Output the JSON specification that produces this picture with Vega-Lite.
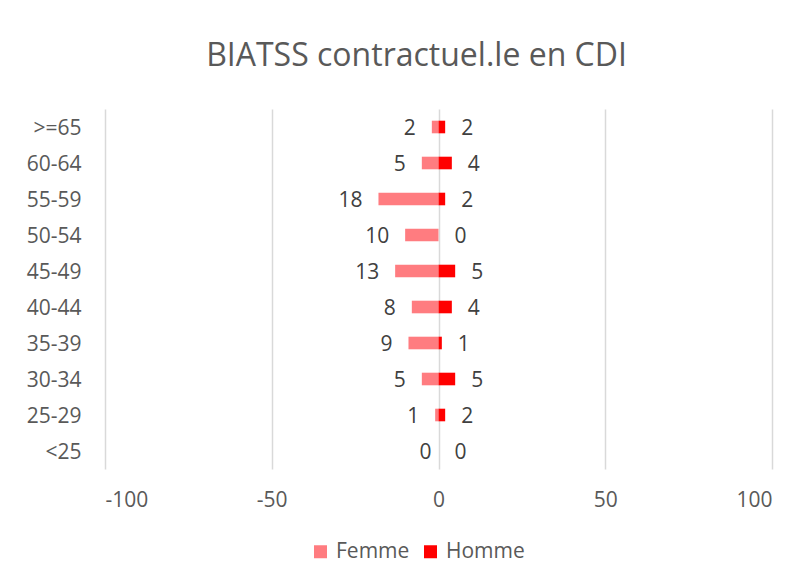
{
  "$schema": "https://vega.github.io/schema/vega-lite/v6.json",
  "width": 667,
  "height": 360,
  "autosize": {"type": "none"},
  "padding": {"left": 105, "top": 109, "right": 36, "bottom": 114},
  "background": "white",
  "title": {"text": "BIATSS contractuel.le en CDI", "fontSize": 32, "font": "Open Sans", "fontWeight": "normal", "color": "#595959", "anchor": "middle", "dx": -22, "offset": 36},
  "config": {"view": {"stroke": null}, "font": "Open Sans"},
  "data": {"values": [
    {"age": ">=65", "sexe": "Femme", "valeur": -2, "effectif": 2},
    {"age": "60-64", "sexe": "Femme", "valeur": -5, "effectif": 5},
    {"age": "55-59", "sexe": "Femme", "valeur": -18, "effectif": 18},
    {"age": "50-54", "sexe": "Femme", "valeur": -10, "effectif": 10},
    {"age": "45-49", "sexe": "Femme", "valeur": -13, "effectif": 13},
    {"age": "40-44", "sexe": "Femme", "valeur": -8, "effectif": 8},
    {"age": "35-39", "sexe": "Femme", "valeur": -9, "effectif": 9},
    {"age": "30-34", "sexe": "Femme", "valeur": -5, "effectif": 5},
    {"age": "25-29", "sexe": "Femme", "valeur": -1, "effectif": 1},
    {"age": "<25", "sexe": "Femme", "valeur": 0, "effectif": 0},
    {"age": ">=65", "sexe": "Homme", "valeur": 2, "effectif": 2},
    {"age": "60-64", "sexe": "Homme", "valeur": 4, "effectif": 4},
    {"age": "55-59", "sexe": "Homme", "valeur": 2, "effectif": 2},
    {"age": "50-54", "sexe": "Homme", "valeur": 0, "effectif": 0},
    {"age": "45-49", "sexe": "Homme", "valeur": 5, "effectif": 5},
    {"age": "40-44", "sexe": "Homme", "valeur": 4, "effectif": 4},
    {"age": "35-39", "sexe": "Homme", "valeur": 1, "effectif": 1},
    {"age": "30-34", "sexe": "Homme", "valeur": 5, "effectif": 5},
    {"age": "25-29", "sexe": "Homme", "valeur": 2, "effectif": 2},
    {"age": "<25", "sexe": "Homme", "valeur": 0, "effectif": 0}
  ]},
  "encoding": {
    "y": {"field": "age", "type": "nominal", "sort": [">=65", "60-64", "55-59", "50-54", "45-49", "40-44", "35-39", "30-34", "25-29", "<25"],
      "scale": {"paddingInner": 0.65, "paddingOuter": 0.325},
      "axis": {"title": null, "domain": false, "ticks": false, "labelFontSize": 21, "labelColor": "#595959", "labelPadding": 24, "labelOffset": 1.5, "labelFont": "Open Sans"}},
    "x": {"field": "valeur", "type": "quantitative", "stack": null,
      "scale": {"domain": [-100, 100], "nice": false},
      "axis": {"title": null, "values": [-100, -50, 0, 50, 100], "labelExpr": "'' + datum.value", "grid": true, "gridColor": "#D9D9D9", "gridWidth": 1.5, "domain": false, "ticks": false, "labelFontSize": 21, "labelColor": "#595959", "labelPadding": 20, "labelFont": "Open Sans"}}
  },
  "layer": [
    {"mark": {"type": "bar"},
     "encoding": {"color": {"field": "sexe", "type": "nominal",
       "scale": {"domain": ["Femme", "Homme"], "range": ["#FF7C80", "#FF0000"]},
       "legend": {"title": null, "orient": "none", "legendX": 205, "legendY": 432, "direction": "horizontal", "symbolType": "square", "symbolSize": 169, "symbolStrokeWidth": 0, "labelFontSize": 21, "labelColor": "#595959", "labelFont": "Open Sans", "columnSpacing": 18, "labelOffset": 5}}}},
    {"transform": [{"filter": "datum.sexe == 'Femme' && datum.effectif > 0"}],
     "mark": {"type": "text", "align": "right", "baseline": "middle", "dx": -16, "dy": 1.5, "fontSize": 21, "color": "#404040", "font": "Open Sans"},
     "encoding": {"text": {"field": "effectif", "type": "quantitative"}}},
    {"transform": [{"filter": "datum.sexe == 'Femme' && datum.effectif == 0"}],
     "mark": {"type": "text", "align": "right", "baseline": "middle", "dx": -7, "dy": 1.5, "fontSize": 21, "color": "#404040", "font": "Open Sans"},
     "encoding": {"text": {"field": "effectif", "type": "quantitative"}}},
    {"transform": [{"filter": "datum.sexe == 'Homme'"}],
     "mark": {"type": "text", "align": "left", "baseline": "middle", "dx": 16, "dy": 1.5, "fontSize": 21, "color": "#404040", "font": "Open Sans"},
     "encoding": {"text": {"field": "effectif", "type": "quantitative"}}}
  ]
}
